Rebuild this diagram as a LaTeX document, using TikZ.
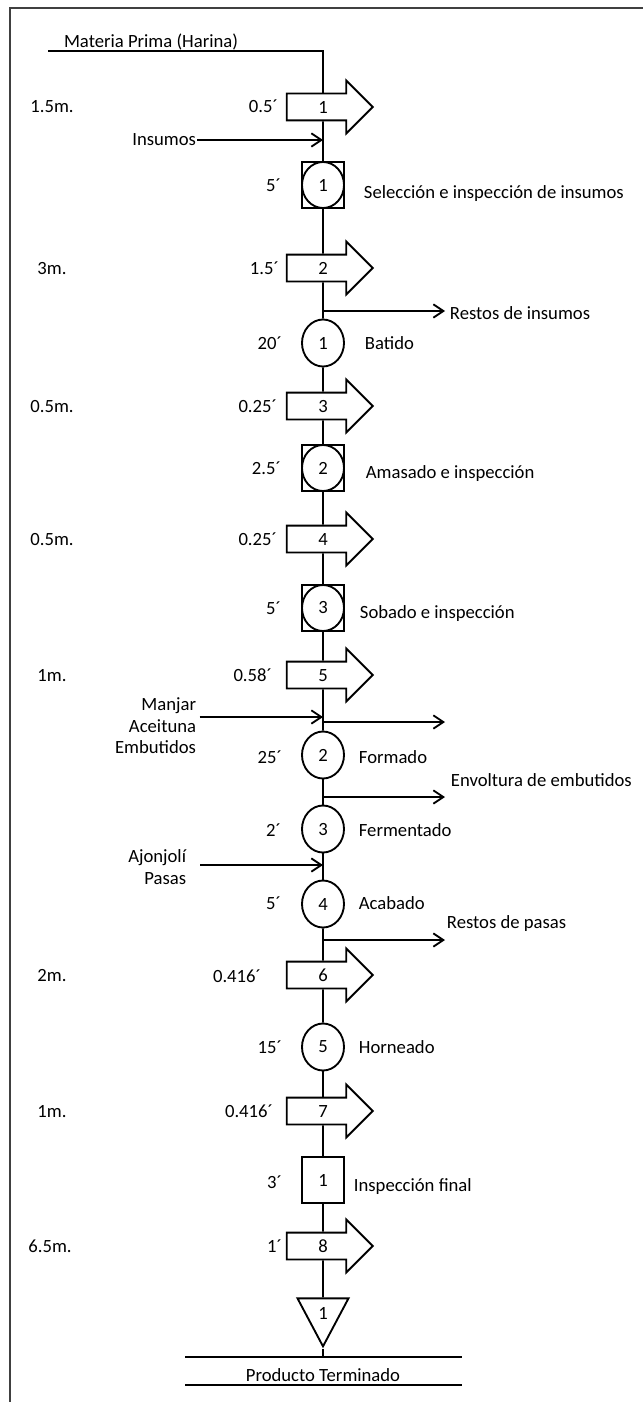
\documentclass[tikz,border=0pt]{standalone}
\usepackage{fontspec}
\setmainfont{Carlito}
\usetikzlibrary{shapes.geometric,shapes.arrows,arrows.meta}
\definecolor{marco}{HTML}{404040}
\tikzset{op/.style={draw, ellipse, minimum width=31.5pt, minimum height=35.25pt, inner sep=0pt}}
\tikzset{opins/.style={draw, rectangle, minimum width=31.5pt, minimum height=34.5pt, inner sep=0pt, path picture={\draw (path picture bounding box.center) ellipse (15.75pt and 17.25pt);}}}
\tikzset{insp/.style={draw, rectangle, minimum width=31.5pt, minimum height=34.5pt, inner sep=0pt}}
\tikzset{tr/.style={draw, fill=white, single arrow, single arrow head extend=9.75pt, minimum height=64.5pt, inner sep=0pt, text height=14.6pt, text depth=4.15pt}}
\tikzset{alm/.style={draw, isosceles triangle, isosceles triangle stretches, shape border rotate=270, minimum width=38.25pt, minimum height=36pt, inner sep=0pt}}
\tikzset{dist/.style={anchor=base, inner sep=0pt}}
\tikzset{tiempo/.style={anchor=base east, inner sep=0pt}}
\tikzset{desc/.style={anchor=base west, inner sep=0pt}}

\begin{document}
\begin{tikzpicture}[x=0.75pt, y=-0.75pt, line width=1.4pt, >={Straight Barb[length=7.5pt,width=10pt]}, font=\fontsize{14}{16}\selectfont]
    \useasboundingbox (0,0) rectangle (643,1402);
    \draw[marco, line width=1.2pt] (10,1402) -- (10,8) -- (643,8);

    \node[anchor=base, inner sep=0pt] (mp) at (151,48) {Materia Prima (Harina)};
    \coordinate (mp0) at (48,51);

    \node[tr] (t1) at (323,107) {1};
    \node[opins] (o1) at (323,185) {1};
    \node[tr] (t2) at (323,268) {2};
    \node[op] (op1) at (323,343) {1};
    \node[tr] (t3) at (323,406) {3};
    \node[opins] (o2) at (323,468) {2};
    \node[tr] (t4) at (323,539) {4};
    \node[opins] (o3) at (323,608) {3};
    \node[tr] (t5) at (323,675) {5};
    \node[op] (op2) at (323,755) {2};
    \node[op] (op3) at (323,829) {3};
    \node[op] (op4) at (323,904) {4};
    \node[tr] (t6) at (323,975) {6};
    \node[op] (op5) at (323,1047) {5};
    \node[tr] (t7) at (323,1111) {7};
    \node[insp] (in1) at (323,1180) {1};
    \node[tr] (t8) at (323,1246) {8};
    \node[alm] (alm) at (323,1313) {1};

    \node[dist] (d1) at (52,113) {1.5m.};
    \node[dist] (d2) at (52,274) {3m.};
    \node[dist] (d3) at (52,412) {0.5m.};
    \node[dist] (d4) at (52,545) {0.5m.};
    \node[dist] (d5) at (52,681) {1m.};
    \node[dist] (d6) at (52,981) {2m.};
    \node[dist] (d7) at (52,1117) {1m.};
    \node[dist] (d8) at (50,1252) {6.5m.};

    \node[tiempo] (h1) at (279,113) {0.5´};
    \node[tiempo] (h2) at (282,191) {5´};
    \node[tiempo] (h3) at (280,274) {1.5´};
    \node[tiempo] (h4) at (283,349) {20´};
    \node[tiempo] (h5) at (278,412) {0.25´};
    \node[tiempo] (h6) at (282,474) {2.5´};
    \node[tiempo] (h7) at (278,545) {0.25´};
    \node[tiempo] (h8) at (282,614) {5´};
    \node[tiempo] (h9) at (273,681) {0.58´};
    \node[tiempo] (h10) at (283,763) {25´};
    \node[tiempo] (h11) at (282,836) {2´};
    \node[tiempo] (h12) at (282,909) {5´};
    \node[tiempo] (h13) at (262,982) {0.416´};
    \node[tiempo] (h14) at (283,1053) {15´};
    \node[tiempo] (h15) at (274,1117) {0.416´};
    \node[tiempo] (h16) at (283,1188) {3´};
    \node[tiempo] (h17) at (283,1252) {1´};

    \node[desc] (n1) at (363,198) {Selección e inspección de insumos};
    \node[desc] (n2) at (364,349) {Batido};
    \node[desc] (n3) at (365,478) {Amasado e inspección};
    \node[desc] (n4) at (359,618) {Sobado e inspección};
    \node[desc] (n5) at (358,763) {Formado};
    \node[desc] (n6) at (358,836) {Fermentado};
    \node[desc] (n7) at (358,909) {Acabado};
    \node[desc] (n8) at (358,1053) {Horneado};
    \node[desc] (n9) at (353,1191) {Inspección final};

    \node[anchor=base east, inner sep=0pt] (ins) at (197,146) {Insumos};
    \node[anchor=north east, align=right, inner sep=0pt] (man) at (197,697) {Manjar\\Aceituna\\Embutidos};
    \node[anchor=north east, align=right, inner sep=0pt] (ajo) at (187,849) {Ajonjolí\\Pasas};
    \node[desc] (r1) at (449,319) {Restos de insumos};
    \node[desc] (r2) at (450,786) {Envoltura de embutidos};
    \node[desc] (r3) at (446,928) {Restos de pasas};

    \coordinate (e1) at (323,140);
    \coordinate (e2) at (323,717);
    \coordinate (e3) at (323,865);
    \coordinate (s1a) at (323,311);
    \coordinate (s1b) at (445,311);
    \coordinate (s2a) at (323,722);
    \coordinate (s2b) at (445,722);
    \coordinate (s3a) at (323,797);
    \coordinate (s3b) at (445,797);
    \coordinate (s4a) at (323,940);
    \coordinate (s4b) at (445,940);

    \coordinate (p1) at (185,1357);
    \coordinate (p2) at (462,1357);
    \coordinate (p3) at (185,1385);
    \coordinate (p4) at (462,1385);
    \node[anchor=base, inner sep=0pt] (prod) at (323,1381) {Producto Terminado};

    \draw (mp0) -| (t1);
    \draw (t1) to (o1);
    \draw (o1) to (t2);
    \draw (t2) to (op1);
    \draw (op1) to (t3);
    \draw (t3) to (o2);
    \draw (o2) to (t4);
    \draw (t4) to (o3);
    \draw (o3) to (t5);
    \draw (t5) to (op2);
    \draw (op2) to (op3);
    \draw (op3) to (op4);
    \draw (op4) to (t6);
    \draw (t6) to (op5);
    \draw (op5) to (t7);
    \draw (t7) to (in1);
    \draw (in1) to (t8);
    \draw (t8) to (alm);
    \draw (alm.apex) to (alm.apex |- p1);

    \draw[->] (ins.east |- e1) to (e1);
    \draw[->] ([xshift=2pt]man.east |- e2) to (e2);
    \draw[->] ([xshift=10pt]ajo.east |- e3) to (e3);
    \draw[->] (s1a) to (s1b);
    \draw[->] (s2a) to (s2b);
    \draw[->] (s3a) to (s3b);
    \draw[->] (s4a) to (s4b);

    \draw (p1) to (p2);
    \draw (p3) to (p4);
\end{tikzpicture}
\end{document}
